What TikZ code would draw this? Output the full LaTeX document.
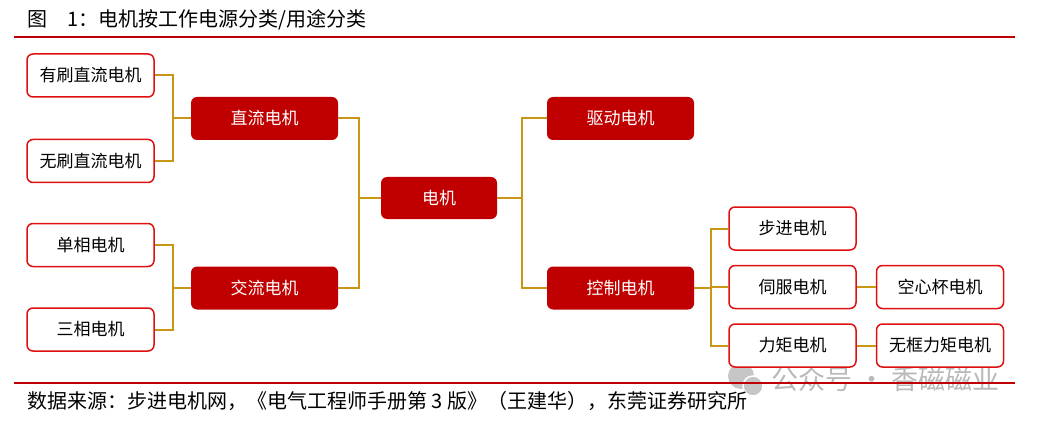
\documentclass[tikz,border=0pt]{standalone}
\usepackage{fontspec}
\newfontfamily\cjk{Noto Sans CJK SC}
\usetikzlibrary{positioning}
\definecolor{darkred}{RGB}{192,0,0}
\definecolor{edgered}{RGB}{224,16,16}
\definecolor{goldline}{RGB}{200,150,20}
\tikzset{
  leaf/.style = {draw=edgered, line width=1.5pt, fill=white, rounded corners=6pt,
                 minimum width=127pt, minimum height=43pt, inner sep=0pt,
                 font=\cjk\fontsize{17}{20}\selectfont},
  cat/.style  = {fill=darkred, rounded corners=6pt, text=white,
                 minimum width=147pt, minimum height=43pt, inner sep=0pt,
                 font=\cjk\fontsize{17}{20}\selectfont},
  conn/.style = {draw=goldline, line width=2pt},
  rule/.style = {draw=darkred, line width=2pt}
}
\begin{document}
\begin{tikzpicture}[x=1pt, y=-1pt]
  \useasboundingbox (0,0) rectangle (1038,422);
  % title and source
  \node[anchor=west, font=\cjk\fontsize{20}{23}\selectfont] (title) at (24,20)
    {图\hspace{1em}1：电机按工作电源分类/用途分类};
  \coordinate (tl) at (14,37.5);
  \coordinate (tr) at (1015,37.5);
  \draw[rule] (tl) -- (tr);
  % watermark
  \fill[gray!45] (741,376) circle (13);
  \draw[white, line width=1.5pt, fill=gray!45] (753,386) circle (10);
  \node[anchor=west, text=gray!55, font=\cjk\fontsize{27}{30}\selectfont] (mark) at (768,379)
    {公众号 · 香磁磁业};
  \coordinate (bl) at (14,383);
  \coordinate (br) at (1015,383);
  \draw[rule] (bl) -- (br);
  \node[anchor=west, font=\cjk\fontsize{20}{23}\selectfont] (src) at (24,401)
    {数据来源：步进电机网，《电气工程师手册第 3 版》（王建华），东莞证券研究所};

  % left side: by power supply
  \node[leaf] (ysdl) at (90.5,75.5) {有刷直流电机};
  \node[leaf] (wsdl) at (90.5,161) {无刷直流电机};
  \node[leaf] (dxdj) at (90.5,245) {单相电机};
  \node[leaf] (sxdj) at (90.5,329.5) {三相电机};
  \node[cat] (zldj) at (264.5,118.5) {直流电机};
  \node[cat] (jldj) at (264.5,288) {交流电机};
  \node[cat, minimum width=116pt, minimum height=42pt] (dj) at (439,198) {电机};
  % right side: by use
  \node[cat] (qddj) at (620.5,118.5) {驱动电机};
  \node[cat] (kzdj) at (620.5,288) {控制电机};
  \node[leaf] (bjdj) at (792.5,228.5) {步进电机};
  \node[leaf] (sfdj) at (792.5,287) {伺服电机};
  \node[leaf] (jjdj) at (792.5,345.5) {力矩电机};
  \node[leaf, right=19pt of sfdj] (kxb) {空心杯电机};
  \node[leaf, right=19pt of jjdj] (wkl) {无框力矩电机};

  \foreach \s/\t in {ysdl/zldj,wsdl/zldj,dxdj/jldj,sxdj/jldj}
    {\draw[conn] (\s.east) -- ++(18,0) |- (\t.west);}
  \foreach \s in {zldj,jldj}
    {\draw[conn] (\s.east) -- ++(21,0) |- (dj.west);}
  \foreach \t in {qddj,kzdj}
    {\draw[conn] (dj.east) -- ++(25,0) |- (\t.west);}
  \foreach \t in {bjdj,sfdj,jjdj}
    {\draw[conn] (kzdj.east) -- ++(17,0) |- (\t.west);}
  \draw[conn] (sfdj) -- (kxb);
  \draw[conn] (jjdj) -- (wkl);
\end{tikzpicture}
\end{document}
